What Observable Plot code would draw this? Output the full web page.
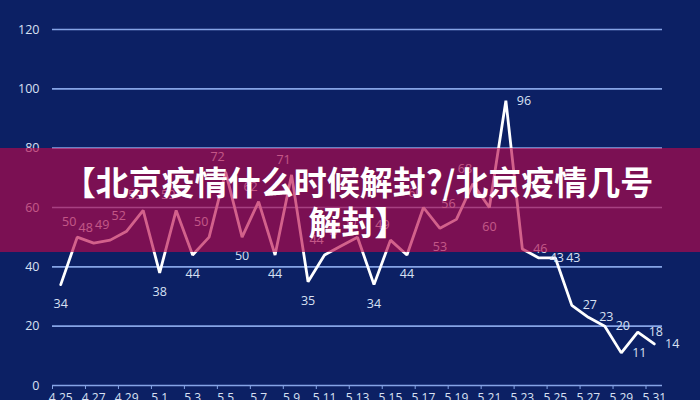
<!DOCTYPE html>
<html>
<head>
<meta charset="utf-8">
<script src="https://cdn.jsdelivr.net/npm/d3@7"></script>
<script src="https://cdn.jsdelivr.net/npm/@observablehq/plot@0.6"></script>
<style>
  html, body { margin: 0; padding: 0; background: #0c2064; overflow: hidden; }
  #wrap { position: relative; width: 700px; height: 400px; }
  #banner {
    position: absolute; left: 0; top: 148px; width: 700px; height: 104px;
    background: rgba(186, 8, 74, 0.64);
    color: #ffffff; font-family: "Noto Sans CJK SC", sans-serif; font-weight: 700;
    font-size: 33px; line-height: 40px; text-align: center;
    box-sizing: border-box; padding: 13px 0 0 16px;
  }
</style>
</head>
<body>
<div id="wrap">
  <div id="chart"></div>
  <div id="banner">【北京疫情什么时候解封?/北京疫情几号<br>解封】</div>
</div>
<script>
const dates = ["4.25","4.26","4.27","4.28","4.29","4.30","5.1","5.2","5.3","5.4","5.5","5.6","5.7","5.8","5.9","5.10","5.11","5.12","5.13","5.14","5.15","5.16","5.17","5.18","5.19","5.20","5.21","5.22","5.23","5.24","5.25","5.26","5.27","5.28","5.29","5.30","5.31"];
const cases = [34,50,48,49,52,59,38,59,44,50,72,50,62,44,71,35,44,47,50,34,49,44,60,53,56,68,60,96,46,43,43,27,23,20,11,18,14];
const yTicks = [0,20,40,60,80,100,120];

const data = dates.map((d, i) => ({i, date: d, value: cases[i]}));
const xTickIdx = d3.range(0, dates.length, 2);
const dateLabels = data.filter(d => d.i % 2 === 0);

const n = data.length;
function isLow(i) {
  const v = cases[i];
  const l = i > 0 ? cases[i - 1] : Infinity;
  const r = i < n - 1 ? cases[i + 1] : Infinity;
  return l - v >= 3 && r - v >= 3;
}
const rightLab = data.filter(d => d.i >= 27);
const belowLab = data.filter(d => d.i < 27 && isLow(d.i));
const aboveLab = data.filter(d => d.i < 27 && !isLow(d.i));

const gridColor = "#86a4e6";
const textColor = "#d8e0f3";
const X = d => d.i + 0.5;

const chart = Plot.plot({
  width: 700, height: 400,
  marginLeft: 52, marginRight: 38, marginTop: 29, marginBottom: 15,
  x: {domain: [0, dates.length]},
  y: {domain: [0, 120]},
  style: {background: "#0c2064", color: textColor, fontFamily: "'Open Sans', sans-serif", fontSize: "12px"},
  marks: [
    Plot.gridY(yTicks.filter(t => t > 0), {stroke: gridColor, strokeOpacity: 1, strokeWidth: 1.6}),
    Plot.ruleY([0], {stroke: gridColor, strokeWidth: 1.6}),
    Plot.axisY({ticks: yTicks, tickSize: 0, tickPadding: 13, label: null, fontSize: 12.5, fill: textColor}),
    Plot.axisX({ticks: xTickIdx, tickFormat: () => "", tickSize: 4, stroke: gridColor, label: null}),
    Plot.text(dateLabels, {x: X, frameAnchor: "bottom", dy: 8, lineAnchor: "top", text: "date", fill: textColor, fontSize: 12}),
    Plot.line(data, {x: X, y: "value", stroke: "#ffffff", strokeWidth: 2.8, strokeLinejoin: "miter"}),
    Plot.text(aboveLab, {x: X, y: "value", text: d => String(d.value), dx: -8, dy: -15, fill: textColor, fontSize: 12.5}),
    Plot.text(belowLab, {x: X, y: "value", text: d => String(d.value), dy: 19, fill: textColor, fontSize: 12.5}),
    Plot.text(rightLab, {x: X, y: "value", text: d => String(d.value), dx: 18, dy: 0, fill: textColor, fontSize: 12.5})
  ]
});
document.getElementById("chart").appendChild(chart);
</script>
</body>
</html>
